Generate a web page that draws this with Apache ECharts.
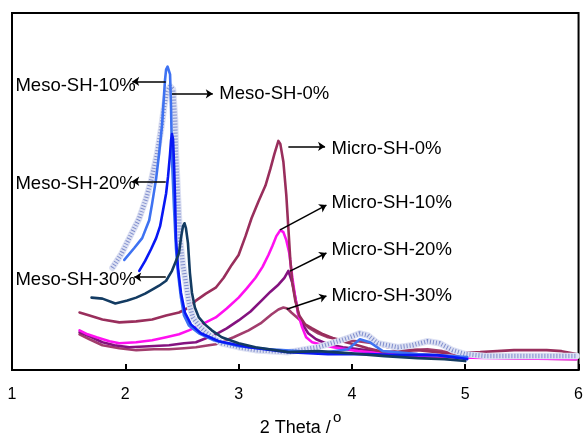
<!DOCTYPE html>
<html>
<head>
<meta charset="utf-8">
<script src="https://cdn.jsdelivr.net/npm/echarts@6/dist/echarts.min.js"></script>
<style>html,body{margin:0;padding:0;background:#fff}#c{width:586px;height:442px}</style>
</head>
<body>
<div id="c"></div>
<script>
// x values: 2 Theta (degrees); y values: intensity (arbitrary units)
const xTicks = [1, 2, 3, 4, 5, 6];

const meso0 = [[1.886,103],[1.965,117],[2.035,133],[2.123,153],[2.184,173],[2.228,191],[2.281,218],[2.316,243],[2.342,265],[2.368,281],[2.395,286],[2.421,283],[2.439,253],[2.447,218],[2.465,173],[2.482,133],[2.509,105],[2.535,88],[2.561,68],[2.596,53],[2.649,45],[2.711,38],[2.781,32],[2.851,27],[3.0,23],[3.149,20],[3.439,18],[3.702,23],[3.877,29],[3.982,33],[4.070,37],[4.140,35],[4.228,27],[4.404,23],[4.535,25],[4.667,29],[4.772,27],[4.886,20],[5.0,16],[5.193,14],[5.456,14],[5.719,14],[5.982,14]];

const meso10 = [[1.991,111],[2.079,123],[2.149,133],[2.211,151],[2.237,168],[2.272,193],[2.298,218],[2.325,248],[2.342,278],[2.351,293],[2.360,303],[2.373,306],[2.386,304],[2.395,298],[2.404,263],[2.412,213],[2.430,163],[2.447,123],[2.465,98],[2.491,73],[2.518,55],[2.561,45],[2.649,37],[2.781,30],[3.0,24],[3.263,21],[3.526,19],[3.789,18],[3.965,21],[4.070,31],[4.158,28],[4.272,19],[4.579,16],[5.018,13]];

const meso20 = [[2.123,100],[2.175,110],[2.228,122],[2.272,133],[2.307,145],[2.333,161],[2.360,178],[2.377,195],[2.395,218],[2.404,232],[2.412,238],[2.421,233],[2.430,208],[2.439,173],[2.447,133],[2.465,103],[2.491,78],[2.526,58],[2.579,46],[2.667,37],[2.825,29],[3.088,23],[3.439,18],[3.789,16],[4.140,16],[4.404,15],[4.754,15],[5.018,11]];

const meso30 = [[1.702,73],[1.798,72],[1.912,67],[2.018,70],[2.096,73],[2.175,77],[2.237,81],[2.298,85],[2.360,90],[2.412,100],[2.447,110],[2.474,118],[2.491,133],[2.509,145],[2.522,148],[2.535,143],[2.553,128],[2.570,98],[2.588,78],[2.614,63],[2.649,53],[2.702,46],[2.763,40],[2.851,33],[3.0,27],[3.149,23],[3.439,18],[3.702,19],[3.965,17],[4.289,14],[4.579,12],[4.816,11],[5.0,9]];

const micro0 = [[1.596,58],[1.684,55],[1.798,51],[1.947,48],[2.096,49],[2.237,51],[2.360,55],[2.474,58],[2.561,63],[2.623,70],[2.711,77],[2.798,83],[2.868,93],[2.939,106],[3.0,116],[3.061,135],[3.114,153],[3.175,170],[3.237,186],[3.281,203],[3.316,218],[3.351,231],[3.368,228],[3.395,210],[3.421,176],[3.439,143],[3.456,111],[3.474,88],[3.500,70],[3.535,55],[3.588,46],[3.649,42],[3.746,36],[3.877,30],[4.018,26],[4.140,22],[4.289,18],[4.579,20],[4.842,17],[5.132,18],[5.430,20],[5.719,20],[5.851,19],[5.982,16]];

const micro10 = [[1.596,40],[1.667,36],[1.746,33],[1.860,29],[1.947,27],[2.096,28],[2.237,30],[2.360,33],[2.474,36],[2.561,40],[2.675,46],[2.798,53],[2.895,62],[3.0,73],[3.070,82],[3.149,93],[3.211,104],[3.263,116],[3.298,125],[3.333,135],[3.368,141],[3.395,139],[3.421,131],[3.447,118],[3.474,93],[3.500,73],[3.526,56],[3.561,43],[3.596,33],[3.649,28],[3.719,26],[3.833,23],[4.053,19],[4.404,15],[4.842,13],[5.281,12],[5.982,11]];

const micro20 = [[1.596,38],[1.684,34],[1.798,28],[1.904,25],[2.035,23],[2.211,24],[2.386,25],[2.518,27],[2.623,28],[2.711,32],[2.798,36],[2.895,42],[3.0,50],[3.105,59],[3.202,70],[3.281,79],[3.351,86],[3.404,93],[3.439,100],[3.456,99],[3.474,88],[3.500,73],[3.526,57],[3.570,45],[3.614,37],[3.684,31],[3.789,26],[3.921,23],[4.140,20],[4.404,17],[4.842,14],[5.281,13],[5.982,12]];

const micro30 = [[1.596,36],[1.684,31],[1.798,25],[1.947,22],[2.096,20],[2.254,21],[2.386,21],[2.518,22],[2.623,23],[2.737,25],[2.798,26],[2.956,33],[3.088,40],[3.193,47],[3.289,56],[3.351,61],[3.395,63],[3.430,62],[3.465,58],[3.526,52],[3.614,43],[3.702,37],[3.789,33],[3.921,30],[4.053,29],[4.184,27],[4.316,23],[4.491,20],[4.667,21],[4.798,19],[4.930,16],[5.105,13],[5.456,12],[5.982,11]];

// annotation labels: [x, y, text] (left edge of text)
const labels = [
  [1.026, 286, 'Meso-SH-10%'],
  [2.825, 278, 'Meso-SH-0%'],
  [1.026, 188, 'Meso-SH-20%'],
  [1.026, 91, 'Meso-SH-30%'],
  [3.816, 223, 'Micro-SH-0%'],
  [3.816, 168, 'Micro-SH-10%'],
  [3.816, 121, 'Micro-SH-20%'],
  [3.816, 75, 'Micro-SH-30%']
];
// annotation arrows: [fromX, fromY, toX, toY]
const arrows = [
  [2.357, 291, 2.061, 291],
  [2.412, 278.5, 2.772, 278.5],
  [2.357, 190.3, 2.061, 190.3],
  [2.357, 93.7, 2.079, 93.7],
  [3.439, 225.5, 3.763, 225.5],
  [3.366, 141.3, 3.775, 166.3],
  [3.454, 99.7, 3.775, 118],
  [3.424, 61.3, 3.775, 74.7]
];

const FONT = "'Liberation Sans', Arial, sans-serif";
const chart = echarts.init(document.getElementById('c'), null, {renderer: 'canvas'});

function line(name, data, color, width, extra) {
  return Object.assign({
    name, type: 'line', data, showSymbol: false, symbol: 'none',
    lineStyle: {color, width, cap: 'round', join: 'round'},
    itemStyle: {color}, silent: true, animation: false, z: 2
  }, extra || {});
}

chart.setOption({
  animation: false,
  backgroundColor: '#fff',
  grid: {left: 12, right: 5, top: 13, bottom: 69, show: true, borderColor: '#000', borderWidth: 2, containLabel: false},
  xAxis: {
    type: 'value', min: 1, max: 6, interval: 1,
    name: '2 Theta /', nameLocation: 'middle', nameGap: 49,
    nameTextStyle: {color: '#000', fontSize: 18, fontFamily: FONT},
    axisLine: {show: true, onZero: false, lineStyle: {color: '#000', width: 2}},
    axisTick: {show: true, inside: true, length: 6, lineStyle: {color: '#000', width: 2}},
    axisLabel: {color: '#000', fontSize: 16, fontFamily: FONT, margin: 17,
      formatter: v => xTicks.includes(v) ? String(v) : ''},
    splitLine: {show: false}
  },
  yAxis: {type: 'value', min: 0, max: 360, show: false, splitLine: {show: false}},
  graphic: [{
    type: 'text', left: 333, top: 410,
    style: {text: 'o', fontSize: 15, fontFamily: FONT, fill: '#000'}
  }],
  series: [
    line('Micro-SH-30%', micro30, '#a23d6d', 2.6),
    line('Micro-SH-20%', micro20, '#84127f', 2.6),
    line('Micro-SH-10%', micro10, '#ff10f0', 2.6),
    line('Micro-SH-0%', micro0, '#992e5c', 2.6),
    line('Meso-SH-0%', meso0, '#dde1f3', 6.5),
    line('Meso-SH-0% dots', meso0, '#7f8dcc', 4.5, {lineStyle: {color: '#7f8dcc', width: 4.5, type: [1, 2], cap: 'butt'}}),
    line('Meso-SH-10%', meso10, '#3e72f2', 2.6),
    line('Meso-SH-20%', meso20, '#0818f5', 2.6),
    line('Meso-SH-30%', meso30, '#133b62', 2.6),
    {
      name: 'labels', type: 'scatter', symbolSize: 1, silent: true, animation: false, z: 5,
      itemStyle: {color: 'rgba(0,0,0,0)'},
      data: labels.map(l => ({value: [l[0], l[1]], name: l[2]})),
      label: {show: true, position: 'right', distance: 0, formatter: p => p.name,
        color: '#000', opacity: 1, fontSize: 18.5, fontFamily: FONT},
      markLine: {
        silent: true, animation: false, symbol: ['none', 'arrow'], symbolSize: 7,
        label: {show: false},
        lineStyle: {color: '#000', width: 1.5, type: 'solid'},
        data: arrows.map(a => [{coord: [a[0], a[1]]}, {coord: [a[2], a[3]]}])
      }
    }
  ]
});
</script>
</body>
</html>
